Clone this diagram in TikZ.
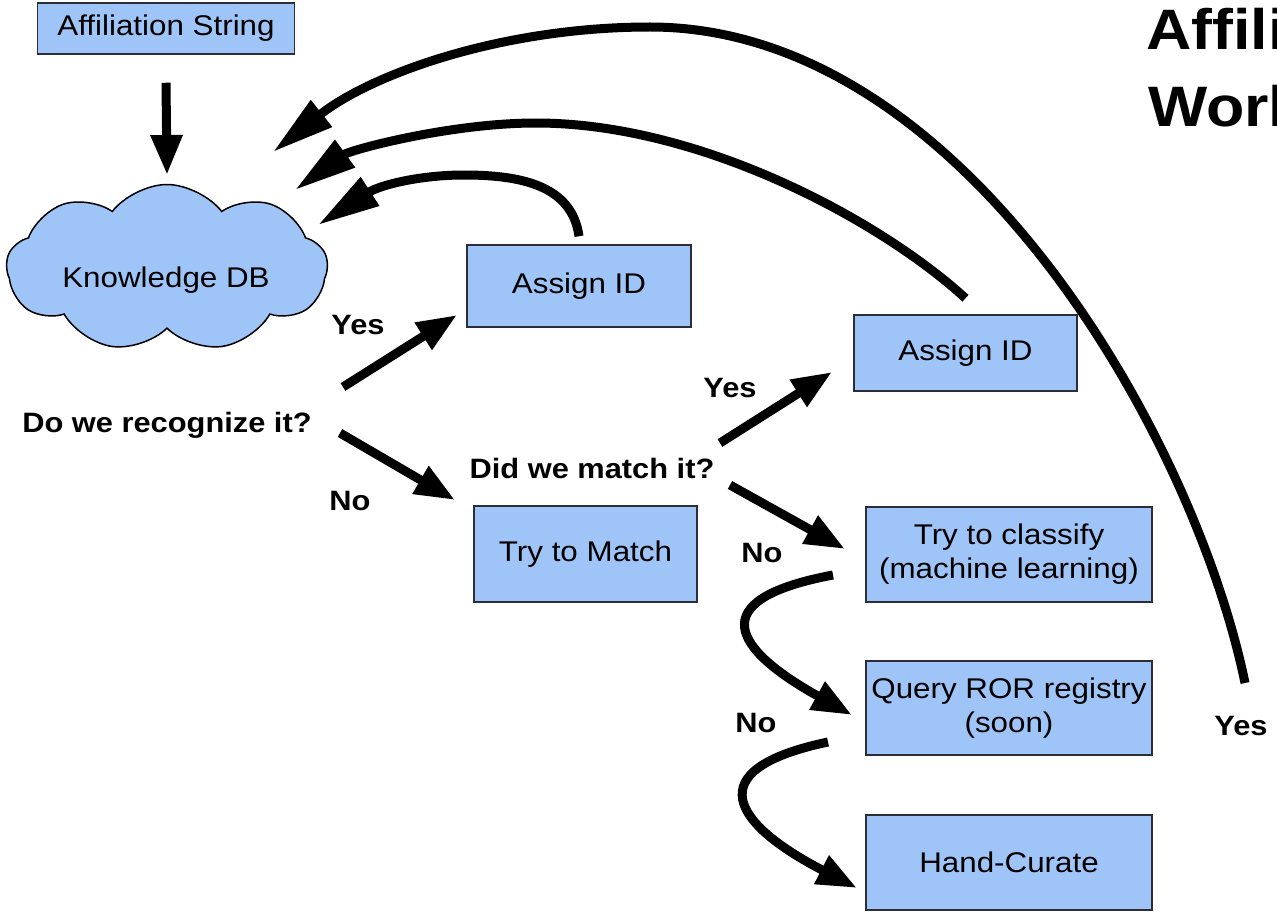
\documentclass[tikz,border=0pt]{standalone}
\usepackage{fontspec}
\setmainfont{Liberation Sans}[FakeStretch=1.1]
\usetikzlibrary{shapes.symbols,arrows.meta}
\definecolor{boxblue}{RGB}{159,197,248}
\definecolor{boxline}{RGB}{45,45,55}
\begin{document}
\begin{tikzpicture}[x=1pt,y=-1pt,
  box/.style={draw=boxline, line width=1.5pt, fill=boxblue, inner sep=0pt,
    font=\fontsize{28.5}{34}\selectfont, align=center},
  lbl/.style={font=\bfseries\fontsize{28}{34}\selectfont, inner sep=0pt},
  titletext/.style={font=\bfseries\fontsize{57}{70}\selectfont, inner sep=0pt, anchor=base west},
  arr/.style={line width=9pt, -{Triangle[length=40pt,width=30pt]}},
  bigarr/.style={line width=9pt, -{Triangle[length=62pt,width=32pt]}},
]
\useasboundingbox (0,0) rectangle (1277,915);

% title (cut by the right edge, as in the reference)
\begin{scope}
\clip (0,0) rectangle (1277,915);
\node[titletext] (t1) at (1146,50) {Affili};
\node[titletext] (t2) at (1148,127) {Worl};
\end{scope}

% boxes
\node[box, minimum width=257pt, minimum height=51pt] (aff) at (166,28.5) {Affiliation String};
\node[cloud, cloud puffs=9, cloud puff arc=105, aspect=1.9, draw=black, line width=1.5pt,
  fill=boxblue, minimum width=321pt, minimum height=167pt, inner sep=0pt] (kdb) at (167,268) {};
\node[font=\fontsize{28.5}{34}\selectfont, inner sep=0pt, anchor=base] (kdbtext) at (166,287) {Knowledge DB};
\node[box, minimum width=224pt, minimum height=82pt] (as1) at (579,286) {Assign ID};
\node[box, minimum width=223pt, minimum height=76pt] (as2) at (965.5,353) {Assign ID};
\node[box, minimum width=223pt, minimum height=96pt] (match) at (585.5,554) {Try to Match};
\node[box, minimum width=286pt, minimum height=95pt] (classify) at (1009,554.5) {Try to classify\\(machine learning)};
\node[box, minimum width=286pt, minimum height=94pt] (ror) at (1009,708) {Query ROR registry\\(soon)};
\node[box, minimum width=286pt, minimum height=95pt] (hand) at (1009,862.5) {Hand-Curate};

% labels
\node[lbl] (recog) at (167,425) {Do we recognize it?};
\node[lbl] (yes1) at (358,325) {Yes};
\node[lbl] (no1) at (350,501) {No};
\node[lbl] (matchq) at (592,468) {Did we match it?};
\node[lbl] (yes2) at (730,388) {Yes};
\node[lbl] (no2) at (762,553) {No};
\node[lbl] (no3) at (756,723) {No};
\node[lbl] (yes3) at (1241,726) {Yes};

% connector end points
\coordinate (kin) at (167,175);
\coordinate (y1s) at (343,387);
\coordinate (y1e) at (457,315);
\coordinate (n1s) at (340,433);
\coordinate (n1e) at (455,500);
\coordinate (y2s) at (720,443);
\coordinate (y2e) at (832,372);
\coordinate (n2s) at (730,485);
\coordinate (n2e) at (845,549);
\coordinate (c1s) at (833,575);
\coordinate (c1e) at (852,715);
\coordinate (c2s) at (828,742);
\coordinate (c2e) at (857,888);
\coordinate (y3s) at (1245,683);
\coordinate (k1) at (318,225);
\coordinate (k2) at (295,190);
\coordinate (k3) at (273,152);

% connectors
\draw[arr] ([yshift=-28pt]aff.south) -- (kin);
\draw[arr] (y1s) -- (y1e);
\draw[arr] (n1s) -- (n1e);
\draw[arr] (y2s) -- (y2e);
\draw[arr] (n2s) -- (n2e);
\draw[arr] (c1s) .. controls (700,600) and (735,650) .. (c1e);
\draw[arr] (c2s) .. controls (695,770) and (735,825) .. (c2e);
\draw[bigarr] ([yshift=8pt]as1.north) .. controls (572,185) and (520,175) .. (464,175)
  .. controls (420,175) and (380,185) .. (k1);
\draw[bigarr] ([yshift=16pt]as2.north) .. controls (880,220) and (700,123) .. (536,123)
  .. controls (450,123) and (350,150) .. (k2);
\draw[bigarr] (y3s) .. controls (1195,440) and (965,27) .. (650,27)
  .. controls (500,27) and (370,75) .. (k3);
\end{tikzpicture}
\end{document}
